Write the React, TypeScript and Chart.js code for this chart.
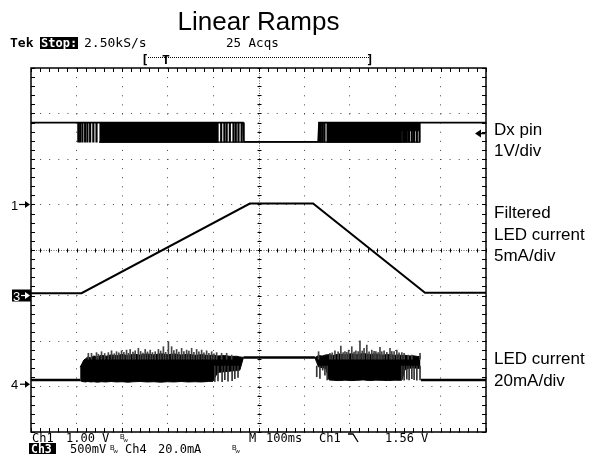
import React, { useEffect, useRef } from "react";
import { Chart, registerables } from "chart.js";
Chart.register(...registerables);

// ---- screen settings (100 ms/div, 10 div across, 8 div high) ----
const TIME_MIN = 0;
const TIME_MAX = 1000;
const TIME_STEP = 100;
const DIV_MIN = 0;
const DIV_MAX = 8;

// channel scale (units/div) and ground level (divisions from bottom)
const CH1_SCALE = 1; // V/div
const CH1_GROUND = 5;
const CH3_SCALE = 5; // mA/div (500 mV/div)
const CH3_GROUND = 3;
const CH4_SCALE = 20; // mA/div
const CH4_GROUND = 1.05;
const TRIGGER_LEVEL = 1.56; // V on Ch1

// ---- Ch1: Dx pin (V) ----
const dxLineTime = [0, 466, 468, 631, 633, 1000];
const dxLineValue = [1.8, 1.8, 1.38, 1.38, 1.8, 1.8];
const dxLowTime = [150, 855];
const dxLowValue = [1.37, 1.37];
const dxBody1Time = [150, 410];
const dxBody1Top = [1.8, 1.8];
const dxBody1Bottom = [1.37, 1.37];
const dxBody2Time = [649, 815, 815, 855];
const dxBody2Top = [1.8, 1.8, 1.8, 1.8];
const dxBody2Bottom = [1.37, 1.37, 1.62, 1.62];
const dxPulseTime = [104, 108, 113, 119, 124, 130, 137, 144, 410, 418, 425, 430, 437, 445, 450, 456, 463, 634, 637, 641, 645, 818, 822, 826, 831, 837, 842, 848, 854];
const dxPulseLow = [1.37];
const dxPulseHigh = [1.8];

// ---- Ch3: filtered LED current (mA) ----
const filtTime = [0, 111, 481, 620, 866, 1000];
const filtValue = [0.25, 0.25, 10.1, 10.1, 0.3, 0.3];

// ---- Ch4: LED current (mA) ----
const ledTime = [0, 108, 108, 467, 624, 624, 857, 1000];
const ledValue: (number | null)[] = [1.9, 1.9, null, 11.7, 11.7, null, 1.85, 1.85];

const ledBody1Time = [108, 112, 116, 120, 125, 131, 138, 146, 155, 165, 176, 188, 200, 213, 226, 240, 255, 270, 285, 300, 315, 330, 345, 360, 375, 390, 400, 410, 425, 440, 452, 459, 467];
const ledBody1Top = [7.5, 9.0, 10.6, 11.2, 12.0, 11.6, 12.4, 12.1, 12.7, 12.3, 12.9, 12.5, 13.1, 12.6, 13.2, 12.8, 13.3, 12.9, 13.4, 13.0, 13.3, 12.8, 13.2, 12.7, 13.0, 12.6, 12.8, 12.4, 12.6, 12.2, 12.3, 12.0, 11.8];
const ledBody1Bottom = [1.6, 1.2, 1.1, 1.0, 1.2, 1.0, 1.1, 0.9, 1.1, 1.0, 1.2, 1.0, 1.1, 0.9, 1.1, 1.2, 1.0, 1.1, 0.9, 1.1, 1.0, 1.2, 1.0, 1.1, 1.0, 1.2, 1.3, 5.2, 5.5, 5.8, 6.0, 6.2, 11.8];

const ledBody2Time = [624, 628, 632, 640, 648, 655, 665, 678, 690, 703, 716, 730, 744, 758, 772, 786, 800, 808, 815, 822, 830, 840, 850, 856];
const ledBody2Top = [11.7, 12.2, 12.6, 12.4, 12.9, 13.0, 12.7, 13.3, 12.9, 13.4, 13.0, 13.5, 13.1, 13.3, 12.8, 13.1, 12.7, 12.9, 12.6, 12.7, 12.4, 12.5, 12.2, 12.2];
const ledBody2Bottom = [11.7, 9.5, 7.6, 7.3, 7.0, 1.9, 1.7, 1.6, 1.8, 1.6, 1.7, 1.9, 1.6, 1.8, 1.7, 1.6, 1.8, 1.7, 1.8, 6.5, 7.0, 7.2, 7.0, 7.0];

const ledSpike1Time = [126, 133, 144, 148, 155, 162, 170, 177, 183, 188, 193, 199, 204, 210, 214, 218, 224, 229, 236, 241, 246, 251, 256, 262, 267, 273, 280, 285, 291, 296, 302, 309, 314, 320, 325, 331, 336, 342, 347, 353, 358, 364, 369, 375, 380, 386, 391, 397, 402, 408, 419, 430, 441];
const ledSpike1Top = [13.6, 13.6, 13.9, 13.2, 14.3, 13.5, 13.9, 14.7, 13.4, 14.3, 13.8, 14.7, 14.0, 15.0, 13.6, 15.3, 14.1, 14.7, 15.8, 14.4, 13.7, 15.3, 14.2, 15.0, 13.9, 14.3, 15.3, 14.6, 16.5, 14.0, 18.7, 16.5, 14.8, 15.3, 14.1, 15.8, 14.3, 15.0, 14.6, 15.8, 14.0, 15.3, 14.2, 15.0, 13.8, 14.7, 13.6, 14.3, 13.4, 13.9, 13.6, 13.6, 12.8];
const ledSpike2Time = [632, 657, 662, 668, 675, 681, 686, 690, 694, 698, 705, 710, 714, 719, 723, 728, 732, 738, 743, 749, 754, 758, 763, 767, 771, 776, 782, 789, 793, 798, 804, 809, 815, 820, 829, 837, 855];
const ledSpike2Top = [14.3, 13.6, 13.8, 14.7, 14.2, 16.8, 13.9, 14.3, 14.0, 15.0, 16.5, 14.1, 14.7, 14.4, 19.1, 14.6, 15.8, 17.2, 14.2, 15.0, 14.5, 14.3, 13.9, 16.2, 14.3, 14.7, 14.0, 15.8, 14.4, 14.3, 15.0, 13.8, 13.9, 13.6, 12.8, 12.8, 13.6];
const ledSpikeBase = [11];

const ledDipTime = [404, 411, 420, 426, 433, 442, 448, 455, 628, 635, 641, 646, 651, 815, 820, 826, 831, 837, 842, 848, 855];
const ledDipLow = [1.2, 1.5, 1.1, 2.0, 1.3, 1.6, 2.4, 3.0, 3.3, 2.6, 6.2, 4.0, 1.9, 2.0, 1.8, 2.2, 1.9, 2.4, 2.0, 1.8, 1.9];
const ledDipTop = [8];

// ---- helpers ----
const series = (ts: number[], vs: (number | null)[], g: number, s: number) =>
  ts.map((t, i) => ({ x: t, y: vs[i] == null ? null : g + (vs[i] as number) / s }));
const pick = (a: number[], i: number) => (a.length === 1 ? a[0] : a[i]);
const bars = (ts: number[], lo: number[], hi: number[], g: number, s: number) =>
  ts.map((t, i) => ({ x: t, y: [g + pick(lo, i) / s, g + pick(hi, i) / s] }));

const line = (data: any, width: number, extra: any = {}) => ({
  type: "line",
  data,
  borderColor: "#000",
  backgroundColor: "#000",
  borderWidth: width,
  pointRadius: 0,
  tension: 0,
  fill: false,
  spanGaps: false,
  order: 1,
  ...extra,
});
const barSet = (data: any, color: string, thick: number) => ({
  type: "bar",
  data,
  backgroundColor: color,
  borderWidth: 0,
  barThickness: thick,
  grouped: false,
  order: 0,
});

const graticule = {
  id: "graticule",
  beforeDatasetsDraw(chart: any) {
    const { ctx, chartArea: a, scales } = chart;
    const x = scales.x, y = scales.y;
    const cx = Math.round(x.getPixelForValue((TIME_MIN + TIME_MAX) / 2)) + 0.5;
    const cy = Math.round(y.getPixelForValue((DIV_MIN + DIV_MAX) / 2)) + 0.5;
    ctx.save();
    ctx.strokeStyle = "#666";
    ctx.lineWidth = 1;
    ctx.setLineDash([1, 1.5]);
    ctx.beginPath();
    ctx.moveTo(cx, a.top); ctx.lineTo(cx, a.bottom);
    ctx.moveTo(a.left, cy); ctx.lineTo(a.right, cy);
    ctx.stroke();
    ctx.setLineDash([]);
    ctx.strokeStyle = "#000";
    ctx.beginPath();
    const mt = TIME_STEP / 5;
    for (let t = TIME_MIN; t <= TIME_MAX + 1e-6; t += mt) {
      const px = Math.round(x.getPixelForValue(t)) + 0.5;
      ctx.moveTo(px, a.top); ctx.lineTo(px, a.top + 4);
      ctx.moveTo(px, a.bottom); ctx.lineTo(px, a.bottom - 4);
      ctx.moveTo(px, cy - 2); ctx.lineTo(px, cy + 2);
    }
    for (let d = DIV_MIN; d <= DIV_MAX + 1e-6; d += 0.2) {
      const py = Math.round(y.getPixelForValue(d)) + 0.5;
      ctx.moveTo(a.left, py); ctx.lineTo(a.left + 4, py);
      ctx.moveTo(a.right, py); ctx.lineTo(a.right - 4, py);
      ctx.moveTo(cx - 2, py); ctx.lineTo(cx + 2, py);
    }
    ctx.stroke();
    ctx.lineWidth = 1.5;
    ctx.strokeRect(a.left, a.top, a.right - a.left, a.bottom - a.top);
    ctx.restore();
  },
};

const arrowRight = (ctx: any, x0: number, x1: number, yy: number) => {
  ctx.beginPath();
  ctx.moveTo(x0, yy); ctx.lineTo(x1 - 4, yy);
  ctx.stroke();
  ctx.beginPath();
  ctx.moveTo(x1, yy); ctx.lineTo(x1 - 5, yy - 3.5); ctx.lineTo(x1 - 5, yy + 3.5);
  ctx.closePath();
  ctx.fill();
};

const bw = (ctx: any, x0: number, base: number) => {
  ctx.font = '7px "Liberation Sans"';
  ctx.fillText("B", x0, base - 3);
  ctx.font = '6px "Liberation Sans"';
  ctx.fillText("w", x0 + 3.5, base);
};

const MONO = '"DejaVu Sans Mono"';

const labels = {
  id: "labels",
  afterDraw(chart: any) {
    const { ctx, chartArea: a, scales } = chart;
    const y = scales.y;
    ctx.save();
    ctx.fillStyle = "#000";
    ctx.strokeStyle = "#000";
    ctx.textBaseline = "alphabetic";
    // title
    ctx.textAlign = "center";
    ctx.font = '26px "Liberation Sans"';
    ctx.fillText("Linear Ramps", (a.left + a.right) / 2, 30);
    ctx.textAlign = "left";
    // header
    ctx.font = `bold 13px ${MONO}`;
    ctx.fillText("Tek", 10, 47);
    ctx.fillRect(40, 37, 38, 12);
    ctx.fillStyle = "#fff";
    ctx.font = `bold 12px ${MONO}`;
    ctx.fillText("Stop:", 41, 47);
    ctx.fillStyle = "#000";
    ctx.font = `13px ${MONO}`;
    ctx.fillText("2.50kS/s", 84, 47);
    ctx.font = `12.5px ${MONO}`;
    ctx.fillText("25 Acqs", 226, 47);
    // record bracket
    ctx.font = `bold 13px ${MONO}`;
    ctx.fillText("[", 141, 64);
    ctx.fillText("T", 162, 64);
    ctx.fillText("]", 366, 64);
    ctx.lineWidth = 1;
    ctx.setLineDash([1, 1]);
    ctx.beginPath();
    ctx.moveTo(148, 57.5); ctx.lineTo(369, 57.5);
    ctx.stroke();
    ctx.setLineDash([]);

    // channel ground markers
    const g1 = y.getPixelForValue(CH1_GROUND);
    const g3 = y.getPixelForValue(CH3_GROUND);
    const g4 = y.getPixelForValue(CH4_GROUND);
    ctx.font = '13px "Liberation Sans"';
    ctx.lineWidth = 1.2;
    ctx.fillText("1", 11, g1 + 5);
    arrowRight(ctx, 19, 30, g1);
    ctx.fillRect(12, g3 - 6, 19, 12);
    ctx.fillStyle = "#fff";
    ctx.strokeStyle = "#fff";
    ctx.fillText("3", 13, g3 + 5);
    arrowRight(ctx, 21, 30, g3);
    ctx.fillStyle = "#000";
    ctx.strokeStyle = "#000";
    ctx.fillText("4", 11, g4 + 5);
    arrowRight(ctx, 20, 30, g4);

    // trigger level arrow (right edge)
    const tg = y.getPixelForValue(CH1_GROUND + TRIGGER_LEVEL / CH1_SCALE);
    ctx.beginPath();
    ctx.moveTo(475, tg); ctx.lineTo(481, tg - 4); ctx.lineTo(481, tg + 4);
    ctx.closePath();
    ctx.fill();
    ctx.lineWidth = 1.5;
    ctx.beginPath();
    ctx.moveTo(480, tg); ctx.lineTo(485, tg);
    ctx.stroke();

    // right-hand annotations
    ctx.font = '17px "Liberation Sans"';
    const rx = 494;
    ctx.fillText("Dx pin", rx, 135);
    ctx.fillText("1V/div", rx, 156);
    ctx.fillText("Filtered", rx, 218);
    ctx.fillText("LED current", rx, 240);
    ctx.fillText("5mA/div", rx, 261);
    ctx.fillText("LED current", rx, 364);
    ctx.fillText("20mA/div", rx, 386);

    // bottom readout
    const f = `12px ${MONO}`;
    ctx.font = f;
    const b1 = 442, b2 = 453;
    ctx.fillText("Ch1", 32, b1);
    ctx.fillText("1.00 V", 66, b1);
    bw(ctx, 120, b1);
    ctx.font = f;
    ctx.fillText("M", 249, b1);
    ctx.fillText("100ms", 266, b1);
    ctx.fillText("Ch1", 319, b1);
    ctx.lineWidth = 1.3;
    ctx.beginPath();
    ctx.moveTo(348, 434); ctx.lineTo(353, 434); ctx.lineTo(358, 442);
    ctx.stroke();
    ctx.fillText("1.56 V", 385, b1);
    ctx.fillRect(29, 443, 27, 11);
    ctx.fillStyle = "#fff";
    ctx.font = `bold 11.5px ${MONO}`;
    ctx.fillText("Ch3", 31, b2);
    ctx.fillStyle = "#000";
    ctx.font = f;
    ctx.fillText("500mV", 70, b2);
    bw(ctx, 110, b2);
    ctx.font = f;
    ctx.fillText("Ch4", 125, b2);
    ctx.fillText("20.0mA", 158, b2);
    bw(ctx, 232, b2);
    ctx.restore();
  },
};

export default function App() {
  const ref = useRef<HTMLCanvasElement>(null);
  useEffect(() => {
    const gridOpts = { color: "#444", lineWidth: 1, drawTicks: false, offset: false };
    const borderOpts = { display: false, dash: [1, 8.1] };
    const datasets: any[] = [
      // Ch1 Dx pin
      line(series(dxLineTime, dxLineValue, CH1_GROUND, CH1_SCALE), 1.6),
      line(series(dxLowTime, dxLowValue, CH1_GROUND, CH1_SCALE), 1.4),
      line(series(dxBody1Time, dxBody1Top, CH1_GROUND, CH1_SCALE), 1, { fill: "+1", order: 2 }),
      line(series(dxBody1Time, dxBody1Bottom, CH1_GROUND, CH1_SCALE), 1, { order: 2 }),
      line(series(dxBody2Time, dxBody2Top, CH1_GROUND, CH1_SCALE), 1, { fill: "+1", order: 2 }),
      line(series(dxBody2Time, dxBody2Bottom, CH1_GROUND, CH1_SCALE), 1, { order: 2 }),
      barSet(bars(dxPulseTime, dxPulseLow, dxPulseHigh, CH1_GROUND, CH1_SCALE), "#000", 1.5),
      // Ch3 filtered LED current
      line(series(filtTime, filtValue, CH3_GROUND, CH3_SCALE), 2),
      // Ch4 LED current
      line(series(ledTime, ledValue, CH4_GROUND, CH4_SCALE), 2.5),
      line(series(ledBody1Time, ledBody1Top, CH4_GROUND, CH4_SCALE), 1, { fill: "+1", order: 2 }),
      line(series(ledBody1Time, ledBody1Bottom, CH4_GROUND, CH4_SCALE), 1, { order: 2 }),
      line(series(ledBody2Time, ledBody2Top, CH4_GROUND, CH4_SCALE), 1, { fill: "+1", order: 2 }),
      line(series(ledBody2Time, ledBody2Bottom, CH4_GROUND, CH4_SCALE), 1, { order: 2 }),
      barSet(bars(ledSpike1Time, ledSpikeBase, ledSpike1Top, CH4_GROUND, CH4_SCALE), "#444", 1),
      barSet(bars(ledSpike2Time, ledSpikeBase, ledSpike2Top, CH4_GROUND, CH4_SCALE), "#444", 1),
      barSet(bars(ledDipTime, ledDipLow, ledDipTop, CH4_GROUND, CH4_SCALE), "#333", 1),
    ];
    const chart = new Chart(ref.current as HTMLCanvasElement, {
      type: "line",
      data: { datasets },
      options: {
        animation: false,
        responsive: false,
        events: [],
        layout: { padding: { left: 31, right: 105, top: 68, bottom: 29 } },
        plugins: { legend: { display: false }, tooltip: { enabled: false }, title: { display: false } },
        scales: {
          x: {
            type: "linear",
            min: TIME_MIN,
            max: TIME_MAX,
            offset: false,
            ticks: { display: false, stepSize: TIME_STEP },
            grid: gridOpts,
            border: borderOpts,
            afterFit: (s: any) => { s.height = 0; },
          },
          y: {
            type: "linear",
            min: DIV_MIN,
            max: DIV_MAX,
            ticks: { display: false, stepSize: 1 },
            grid: gridOpts,
            border: borderOpts,
            afterFit: (s: any) => { s.width = 0; },
          },
        },
      } as any,
      plugins: [graticule, labels],
    } as any);
    return () => chart.destroy();
  }, []);
  return (
    <div style={{ position: "absolute", left: 0, top: 0, width: 591, height: 461, background: "#fff" }}>
      <canvas ref={ref} width={591} height={461} />
    </div>
  );
}
